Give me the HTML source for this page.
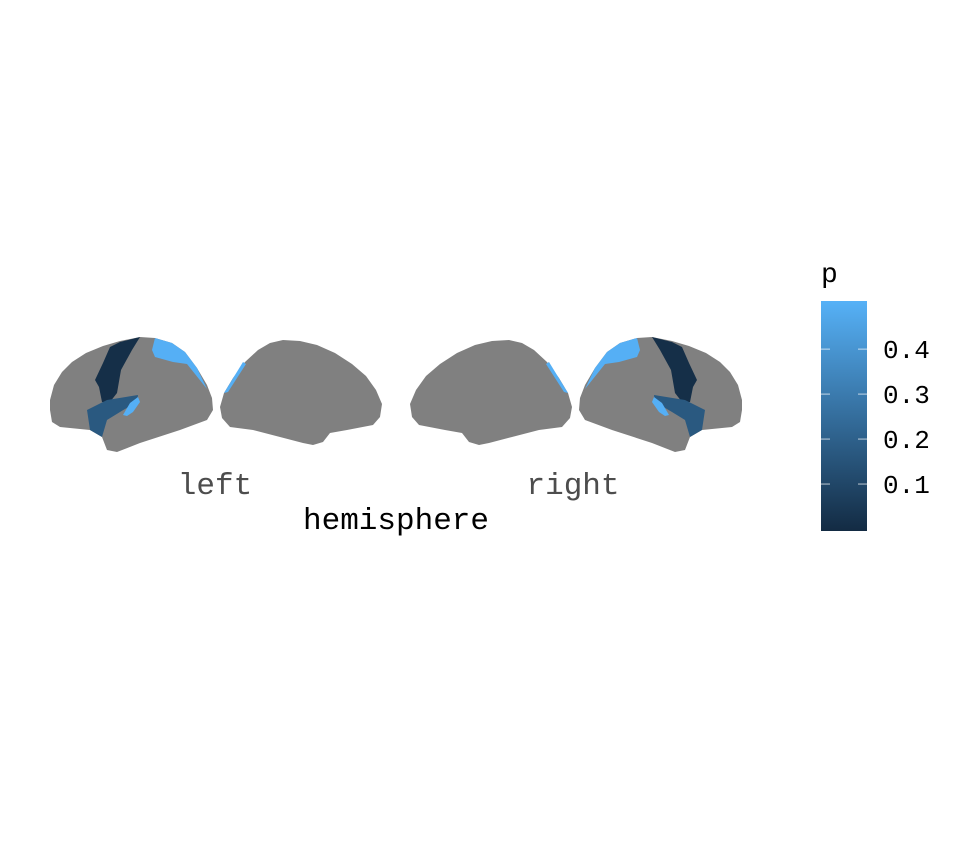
<!DOCTYPE html>
<html><head><meta charset="utf-8"><style>
body{margin:0;background:#fff}
svg{display:block}
text{font-family:"Liberation Mono",monospace}
</style></head><body>
<svg id="chart" width="960" height="865" viewBox="0 0 960 865">
<defs><linearGradient id="grad" x1="0" y1="1" x2="0" y2="0"><stop offset="0" stop-color="#132B43"/><stop offset="1" stop-color="#56B1F7"/></linearGradient></defs>
<g id="brains"></g>
<text x="215" y="494" font-size="31" fill="#4D4D4D" text-anchor="middle">left</text>
<text x="573" y="494" font-size="31" fill="#4D4D4D" text-anchor="middle">right</text>
<text x="396" y="529" font-size="31" fill="#000" text-anchor="middle">hemisphere</text>
<text x="821" y="282" font-size="28" fill="#000">p</text>
<rect x="821" y="301" width="46" height="230" fill="url(#grad)"/>
<g id="legend"></g>
</svg>
<script>
const regionNames=['central','insula','insula-inner','superior-parietal','medial-parietal'];
const regionValues=[0.01,0.17,0.5,0.5,0.5];
const tickValues=[0.1,0.2,0.3,0.4];
const tickLabels=['0.1','0.2','0.3','0.4'];
const pMin=-0.0044,pMax=0.507;
const shapes={
 'outline-lateral':'50,410 50,400 54,385 62,372 72,362 86,353 103,346 120,341 140,337 155,338 172,343 185,352 197,368 207,385 212,398 213,410 207,420 180,430 140,443 117,452 107,450 102,437 90,430 60,427 52,422',
 'outline-medial':'220,407 224,393 233,378 245,362 258,350 270,343 283,340 300,341 317,345 335,353 352,364 366,376 376,390 382,404 380,417 373,425 347,430 330,433 323,442 313,445 303,443 280,437 253,430 230,427 222,418',
 'central':'120,342 140,337 132,350 121,370 117,393 110,402 102,402 99,387 95,380 103,363 110,347',
 'insula':'87,410 107,400 138,395 137,402 120,412 107,420 102,437 90,430',
 'insula-inner':'123,415 130,403 138,397 140,402 133,412 127,416',
 'superior-parietal':'155,338 172,343 185,352 197,368 207,389 187,364 173,362 155,357 152,350',
 'medial-parietal':'224,393 243,362 246,364 228,392'
};
const yScale=v=>531-(v-pMin)/(pMax-pMin)*230;
function lerp(a,b,t){return Math.round(a+(b-a)*t);}
function color(v){const t=Math.max(0,Math.min(1,(v-pMin)/(pMax-pMin)));
 return `rgb(${lerp(0x13,0x56,t)},${lerp(0x2B,0xB1,t)},${lerp(0x43,0xF7,t)})`;}
const NS='http://www.w3.org/2000/svg';
const brains=document.getElementById('brains');
[['left',''],['right','translate(792,0) scale(-1,1)']].forEach(([h,tr])=>{
 const g=document.createElementNS(NS,'g');
 g.setAttribute('transform',tr);
 
 
 ['outline-lateral','outline-medial'].forEach(k=>{
  const p=document.createElementNS(NS,'polygon');
  p.setAttribute('points',shapes[k]);p.setAttribute('fill','#808080');
  
  
  g.appendChild(p);});
 regionNames.forEach((r,i)=>{
  const p=document.createElementNS(NS,'polygon');
  p.setAttribute('points',shapes[r]);p.setAttribute('fill',color(regionValues[i]));
  
  
  g.appendChild(p);});
 brains.appendChild(g);
});
const lg=document.getElementById('legend');
tickValues.forEach((v,i)=>{
 const y=yScale(v);
 [[821,830],[858,867]].forEach(([a,b])=>{
  const l=document.createElementNS(NS,'line');
  l.setAttribute('x1',a);l.setAttribute('x2',b);l.setAttribute('y1',y);l.setAttribute('y2',y);
  l.setAttribute('stroke','rgba(255,255,255,0.7)');l.setAttribute('stroke-width','1');
  
  
  lg.appendChild(l);});
 const t=document.createElementNS(NS,'text');
 t.setAttribute('x',883);t.setAttribute('y',y+9);t.setAttribute('font-size','26');
 t.textContent=tickLabels[i];
 
 
 lg.appendChild(t);
});
</script>
</body></html>
